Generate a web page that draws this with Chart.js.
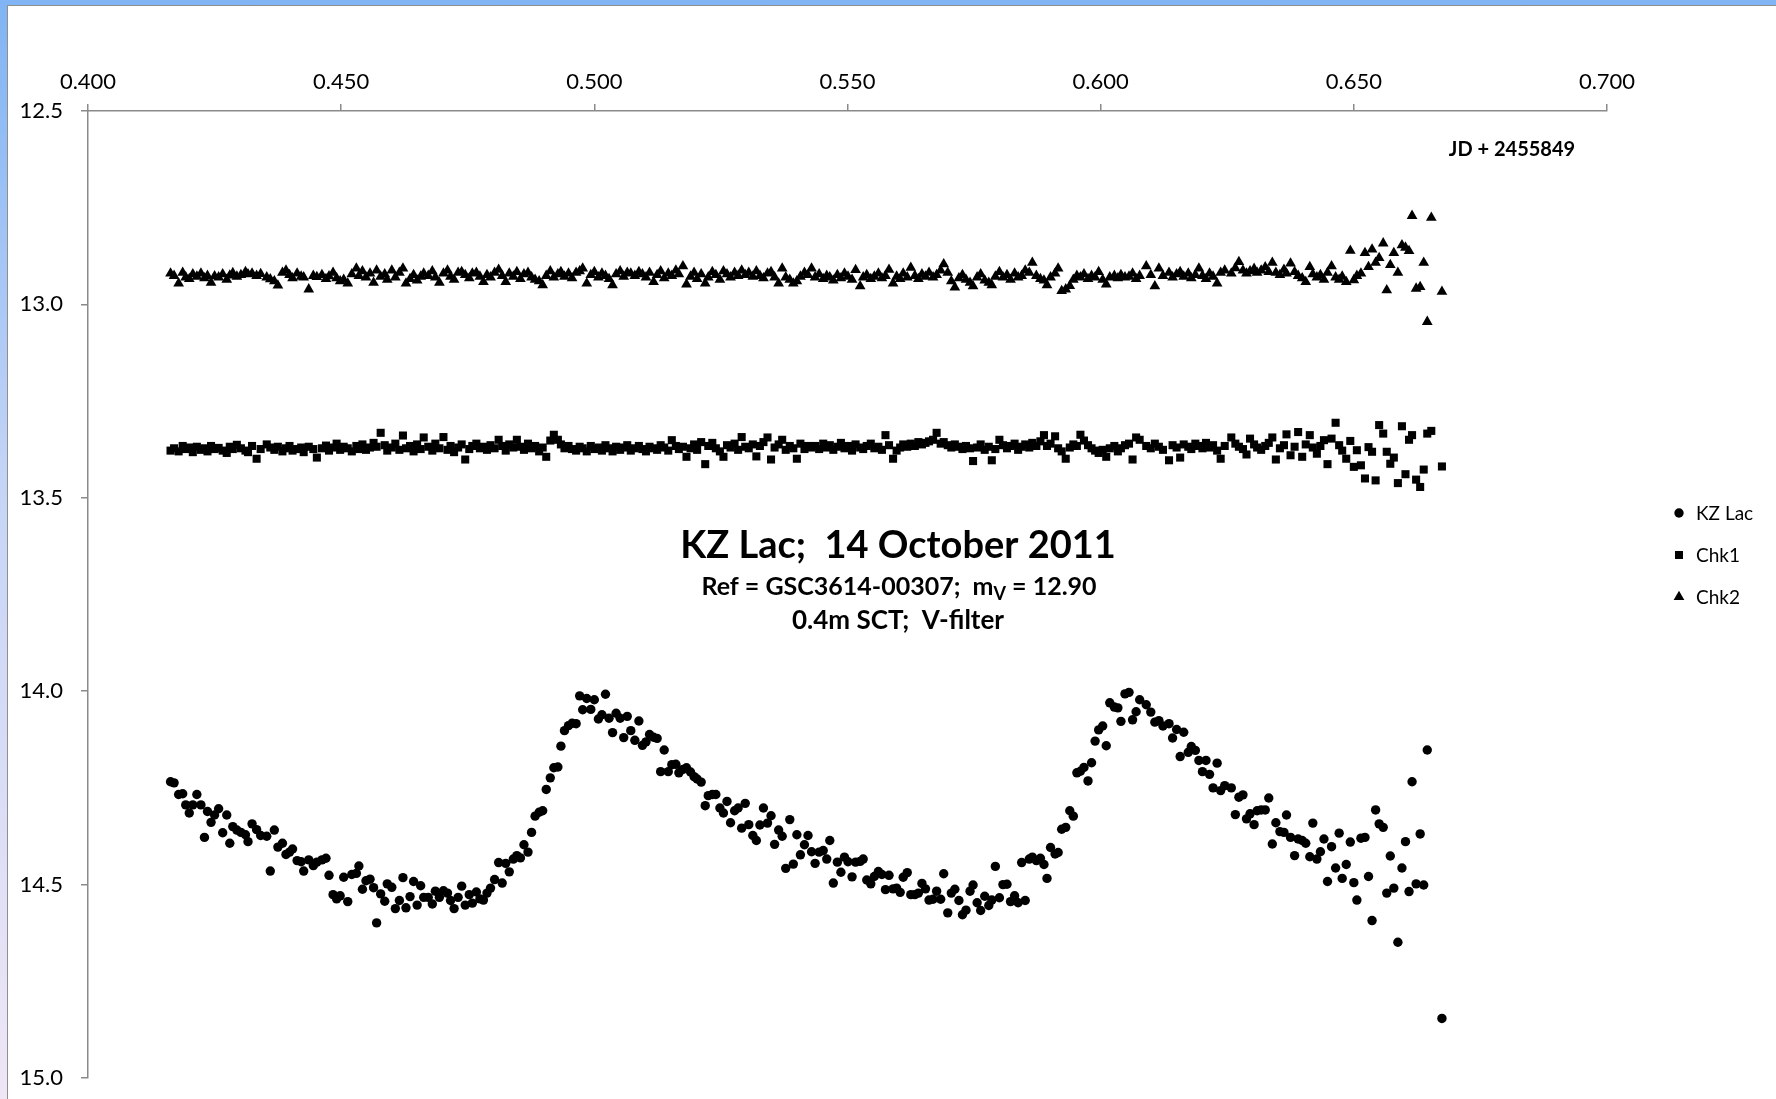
<!DOCTYPE html>
<html>
<head>
<meta charset="utf-8">
<title>KZ Lac light curve</title>
<script src="https://cdn.jsdelivr.net/npm/chart.js@4/dist/chart.umd.min.js"></script>
<style>
  html, body { margin: 0; padding: 0; width: 1776px; height: 1099px; overflow: hidden; background: #fff; }
  #frame { position: absolute; left: 0; top: 0; width: 1776px; height: 1099px;
           background: linear-gradient(to bottom, #80b4f4 0%, #c6d5f6 45%, #efe6f6 100%); }
  #sheet { position: absolute; left: 7px; top: 5px; width: 1769px; height: 1094px; background: #fff;
           border-left: 1px solid #8f8f8f; border-top: 1px solid #8f8f8f; }
  #lc { position: absolute; left: 0; top: 0; }
</style>
</head>
<body>
<div id="frame"></div>
<div id="sheet"></div>
<canvas id="lc" width="1776" height="1099"></canvas>
<script>
// Time of each frame (JD - 2455849)
const jd = [
  0.4163,0.4170,0.4179,0.4187,0.4193,0.4200,0.4207,0.4215,0.4223,0.4230,
  0.4236,0.4243,0.4250,0.4258,0.4266,0.4274,0.4280,0.4286,0.4294,0.4302,
  0.4311,0.4316,0.4324,0.4333,0.4341,0.4353,0.4360,0.4368,0.4375,0.4384,
  0.4391,0.4398,0.4404,0.4413,0.4421,0.4426,0.4436,0.4445,0.4452,0.4462,
  0.4470,0.4476,0.4484,0.4491,0.4498,0.4505,0.4513,0.4521,0.4530,0.4535,
  0.4542,0.4549,0.4557,0.4564,0.4570,0.4578,0.4586,0.4591,0.4600,0.4607,
  0.4615,0.4622,0.4628,0.4636,0.4643,0.4650,0.4657,0.4663,0.4672,0.4680,
  0.4686,0.4694,0.4702,0.4710,0.4716,0.4723,0.4731,0.4738,0.4745,0.4753,
  0.4759,0.4767,0.4774,
  0.4781,0.4788,0.4795,0.4803,0.4811,0.4818,0.4825,0.4832,0.4840,0.4847,
  0.4854,0.4861,0.4869,0.4876,0.4883,0.4891,0.4898,0.4905,0.4913,0.4920,
  0.4928,0.4934,0.4941,0.4949,0.4956,0.4964,0.4971,0.4977,0.4985,0.4993,
  0.5000,0.5008,0.5015,0.5022,0.5029,0.5036,0.5043,0.5051,0.5058,0.5065,
  0.5072,0.5080,0.5088,0.5095,0.5102,0.5109,0.5117,0.5124,0.5131,0.5138,
  0.5146,0.5153,0.5161,0.5167,0.5175,0.5182,0.5190,0.5197,0.5203,0.5211,
  0.5219,0.5225,0.5233,0.5240,0.5248,0.5255,0.5262,0.5269,0.5277,0.5284,
  0.5291,0.5298,0.5305,0.5313,0.5320,0.5327,0.5334,0.5342,0.5349,0.5356,
  0.5364,0.5371,0.5378,0.5386,0.5393,0.5400,0.5407,0.5415,0.5422,0.5429,
  0.5436,0.5444,0.5452,0.5459,0.5465,0.5472,0.5480,0.5487,0.5494,0.5501,
  0.5509,0.5516,0.5525,0.5531,0.5538,0.5546,0.5553,0.5561,0.5568,0.5575,
  0.5582,0.5590,0.5597,0.5604,0.5610,0.5618,0.5625,0.5633,0.5640,0.5647,
  0.5654,0.5661,0.5669,0.5676,0.5684,0.5690,0.5698,0.5705,0.5712,0.5720,
  0.5727,0.5734,0.5742,0.5748,0.5756,0.5763,0.5771,0.5779,0.5785,0.5792,
  0.5800,0.5807,0.5815,0.5822,0.5830,0.5837,0.5844,0.5851,0.5859,0.5865,
  0.5873,0.5881,0.5888,0.5894,0.5901,0.5910,0.5916,0.5923,0.5931,0.5939,
  0.5946,0.5953,0.5960,0.5967,0.5975,0.5982,0.5989,0.5996,0.6004,0.6011,
  0.6018,0.6027,0.6034,0.6040,0.6048,0.6056,0.6063,0.6070,0.6077,
  0.6090,0.6099,0.6107,0.6115,0.6123,0.6135,0.6142,0.6150,0.6157,0.6164,
  0.6173,0.6179,0.6187,0.6194,0.6201,0.6208,0.6215,0.6222,0.6230,0.6237,
  0.6245,0.6258,0.6266,0.6273,0.6281,0.6288,0.6295,0.6303,0.6309,0.6317,
  0.6325,0.6332,0.6339,0.6346,0.6354,0.6362,0.6367,0.6375,0.6383,0.6390,
  0.6398,0.6405,0.6413,0.6419,0.6427,0.6434,0.6441,0.6448,0.6456,0.6464,
  0.6471,0.6477,0.6485,0.6493,0.6500,0.6506,0.6514,0.6522,0.6529,0.6536,
  0.6543,0.6550,0.6558,0.6565,0.6572,0.6579,0.6587,0.6595,0.6602,0.6609,
  0.6615,0.6623,0.6631,0.6638,0.6645,0.6653,0.6674
];

// Variable star magnitudes (V)
const kzLac = [
  14.234,14.237,14.267,14.265,14.294,14.315,14.294,14.267,14.294,14.378,
  14.311,14.339,14.320,14.304,14.366,14.320,14.393,14.350,14.359,14.365,
  14.371,14.389,14.343,14.358,14.373,14.375,14.465,14.359,14.403,14.393,
  14.422,14.416,14.408,14.438,14.441,14.465,14.436,14.451,14.442,14.436,
  14.432,14.476,14.526,14.537,14.529,14.481,14.544,14.474,14.471,14.452,
  14.512,14.490,14.486,14.508,14.599,14.524,14.543,14.498,14.507,14.562,
  14.541,14.482,14.560,14.531,14.492,14.553,14.503,14.533,14.533,14.550,
  14.517,14.533,14.516,14.522,14.541,14.562,14.533,14.504,14.553,14.526,
  14.548,14.519,14.537,
  14.540,14.522,14.509,14.487,14.443,14.496,14.445,14.467,14.434,14.425,
  14.431,14.397,14.416,14.365,14.323,14.313,14.309,14.254,14.224,14.198,
  14.196,14.142,14.102,14.089,14.083,14.084,14.012,14.048,14.019,14.047,
  14.022,14.072,14.061,14.008,14.070,14.107,14.057,14.070,14.120,14.065,
  14.102,14.127,14.077,14.140,14.131,14.112,14.119,14.122,14.208,14.152,
  14.208,14.190,14.189,14.211,14.202,14.198,14.209,14.221,14.227,14.235,
  14.296,14.270,14.267,14.267,14.302,14.315,14.285,14.340,14.309,14.302,
  14.354,14.290,14.345,14.373,14.386,14.346,14.302,14.341,14.322,14.396,
  14.359,14.375,14.458,14.332,14.447,14.371,14.423,14.397,14.373,14.415,
  14.445,14.416,14.412,14.434,14.386,14.496,14.442,14.468,14.429,14.441,
  14.480,14.442,14.440,14.434,14.488,14.498,14.479,14.466,14.474,14.513,
  14.476,14.511,14.509,14.520,14.481,14.469,14.526,14.526,14.522,14.497,
  14.511,14.540,14.538,14.517,14.538,14.472,14.573,14.522,14.512,14.541,
  14.578,14.566,14.517,14.501,14.547,14.567,14.530,14.554,14.540,14.453,
  14.534,14.500,14.499,14.544,14.529,14.547,14.443,14.541,14.434,14.429,
  14.438,14.432,14.448,14.484,14.404,14.421,14.417,14.357,14.352,14.309,
  14.323,14.211,14.207,14.197,14.232,14.185,14.129,14.100,14.090,14.141,
  14.030,14.041,14.043,14.078,14.007,14.003,14.074,14.053,14.022,
  14.035,14.054,14.080,14.076,14.090,14.084,14.121,14.099,14.169,14.106,
  14.158,14.143,14.153,14.179,14.208,14.179,14.215,14.250,14.186,14.257,
  14.244,14.250,14.319,14.274,14.268,14.330,14.317,14.345,14.309,14.307,
  14.307,14.276,14.395,14.340,14.363,14.365,14.320,14.378,14.425,14.382,
  14.386,14.393,14.428,14.341,14.434,14.415,14.382,14.492,14.402,14.457,
  14.367,14.484,14.448,14.390,14.495,14.540,14.380,14.378,14.479,14.593,
  14.307,14.343,14.352,14.522,14.426,14.509,14.649,14.457,14.389,14.518,
  14.234,14.498,14.369,14.501,14.152,null,14.846
];

// First check star
const chk1 = [
  13.378,13.372,13.380,13.366,13.374,13.370,13.382,13.368,13.376,13.372,
  13.380,13.366,13.374,13.371,13.378,13.384,13.368,13.374,13.363,13.372,
  13.378,13.382,13.366,13.399,13.374,13.362,13.370,13.376,13.368,13.380,
  13.372,13.366,13.378,13.374,13.370,13.382,13.368,13.374,13.396,13.372,
  13.365,13.378,13.370,13.360,13.376,13.368,13.372,13.380,13.366,13.374,
  13.362,13.376,13.370,13.358,13.368,13.332,13.364,13.378,13.370,13.360,
  13.376,13.339,13.372,13.366,13.380,13.362,13.374,13.344,13.368,13.378,
  13.360,13.372,13.343,13.376,13.366,13.382,13.370,13.362,13.401,13.374,
  13.366,13.360,13.372,
  13.368,13.376,13.364,13.372,13.350,13.366,13.378,13.362,13.370,13.350,
  13.368,13.376,13.360,13.372,13.366,13.380,13.370,13.394,13.352,13.337,
  13.350,13.362,13.372,13.366,13.374,13.378,13.368,13.372,13.380,13.366,
  13.374,13.370,13.378,13.364,13.372,13.380,13.368,13.376,13.370,13.364,
  13.378,13.372,13.366,13.374,13.380,13.368,13.372,13.376,13.364,13.370,
  13.378,13.351,13.366,13.374,13.368,13.394,13.372,13.362,13.376,13.356,
  13.413,13.366,13.358,13.372,13.380,13.394,13.364,13.370,13.360,13.376,
  13.343,13.368,13.372,13.362,13.393,13.366,13.356,13.344,13.401,13.370,
  13.362,13.350,13.376,13.366,13.372,13.399,13.360,13.374,13.366,13.370,
  13.366,13.374,13.360,13.370,13.364,13.376,13.368,13.358,13.372,13.366,
  13.378,13.362,13.370,13.374,13.366,13.360,13.372,13.368,13.376,13.338,
  13.364,13.399,13.378,13.370,13.362,13.368,13.360,13.366,13.356,13.362,
  13.358,13.354,13.350,13.332,13.360,13.356,13.364,13.370,13.362,13.368,
  13.374,13.366,13.372,13.405,13.370,13.362,13.376,13.368,13.403,13.374,
  13.350,13.364,13.372,13.366,13.360,13.376,13.368,13.362,13.370,13.358,
  13.366,13.354,13.338,13.366,13.360,13.341,13.372,13.380,13.399,13.370,
  13.362,13.366,13.337,13.352,13.364,13.372,13.378,13.384,13.376,13.394,
  13.372,13.366,13.380,13.372,13.364,13.360,13.401,13.344,13.350,
  13.366,13.372,13.360,13.368,13.376,13.403,13.364,13.370,13.396,13.362,
  13.368,13.374,13.360,13.366,13.372,13.358,13.370,13.364,13.378,13.399,
  13.366,13.344,13.360,13.368,13.374,13.388,13.347,13.362,13.370,13.376,
  13.366,13.358,13.344,13.401,13.372,13.364,13.336,13.390,13.368,13.330,
  13.394,13.362,13.338,13.370,13.386,13.366,13.351,13.413,13.347,13.306,
  13.364,13.378,13.399,13.353,13.420,13.377,13.416,13.450,13.369,13.381,
  13.455,13.312,13.334,13.381,13.412,13.396,13.462,13.315,13.439,13.350,
  13.338,13.453,13.472,13.427,13.334,13.327,13.419
];

// Second check star
const chk2 = [
  12.920,12.926,12.946,12.918,12.930,12.934,12.922,12.928,12.920,12.932,
  12.926,12.944,12.927,12.930,12.922,12.936,12.925,12.919,12.928,12.924,
  12.916,12.922,12.920,12.926,12.921,12.930,12.935,12.940,12.951,12.918,
  12.912,12.924,12.932,12.920,12.928,12.930,12.961,12.926,12.929,12.924,
  12.934,12.927,12.918,12.932,12.940,12.936,12.946,12.922,12.907,12.926,
  12.914,12.930,12.920,12.944,12.912,12.928,12.922,12.936,12.912,12.930,
  12.918,12.907,12.946,12.934,12.924,12.938,12.928,12.920,12.926,12.914,
  12.930,12.944,12.920,12.912,12.928,12.936,12.918,12.916,12.924,12.932,
  12.920,12.918,12.928,
  12.942,12.924,12.930,12.918,12.910,12.926,12.942,12.920,12.928,12.916,
  12.934,12.922,12.918,12.930,12.936,12.940,12.950,12.926,12.914,12.930,
  12.922,12.916,12.928,12.920,12.932,12.918,12.914,12.907,12.946,12.924,
  12.916,12.930,12.920,12.926,12.934,12.950,12.922,12.914,12.928,12.918,
  12.920,12.926,12.916,12.922,12.930,12.918,12.942,12.924,12.914,12.932,
  12.920,12.926,12.912,12.922,12.901,12.948,12.928,12.918,12.934,12.922,
  12.946,12.930,12.916,12.924,12.936,12.914,12.922,12.930,12.918,12.926,
  12.912,12.924,12.918,12.928,12.914,12.926,12.932,12.920,12.916,12.930,
  12.946,12.907,12.930,12.936,12.946,12.940,12.928,12.918,12.924,12.907,
  12.930,12.922,12.934,12.926,12.930,12.938,12.924,12.932,12.920,12.928,
  12.936,12.911,12.953,12.930,12.924,12.934,12.928,12.920,12.932,12.926,
  12.910,12.946,12.928,12.934,12.920,12.930,12.905,12.926,12.934,12.922,
  12.928,12.918,12.930,12.924,12.912,12.896,12.918,12.940,12.956,12.932,
  12.924,12.936,12.944,12.953,12.930,12.922,12.938,12.944,12.950,12.928,
  12.916,12.930,12.924,12.936,12.920,12.930,12.926,12.912,12.918,12.892,
  12.926,12.934,12.938,12.950,12.930,12.920,12.907,12.965,12.961,12.952,
  12.936,12.926,12.930,12.922,12.934,12.926,12.930,12.916,12.936,12.948,
  12.930,12.926,12.932,12.924,12.930,12.928,12.920,12.934,12.926,
  12.901,12.924,12.953,12.907,12.926,12.918,12.930,12.922,12.916,12.928,
  12.920,12.932,12.924,12.907,12.926,12.934,12.920,12.928,12.946,12.918,
  12.912,12.920,12.906,12.890,12.912,12.920,12.914,12.908,12.918,12.912,
  12.904,12.916,12.892,12.918,12.924,12.910,12.920,12.894,12.916,12.926,
  12.932,12.942,12.903,12.922,12.930,12.924,12.936,12.918,12.901,12.930,
  12.936,12.928,12.942,12.861,12.937,12.926,12.920,12.867,12.903,12.858,
  12.892,12.880,12.842,12.963,12.898,12.867,12.918,12.847,12.853,12.862,
  12.771,12.959,12.955,12.892,13.045,12.776,12.967
];

const seriesNames = ['KZ Lac', 'Chk1', 'Chk2'];
const xTickRange = [0.4, 0.7, 0.05];
const yTickRange = [12.5, 15.0, 0.5];
const titleText = 'KZ Lac;  14 October 2011';
const refText = ['Ref = GSC3614-00307;  m', 'V', ' = 12.90'];
const setupText = '0.4m SCT;  V-filter';
const axisNote = 'JD + 2455849';

const FONT = "Lato, 'Open Sans', sans-serif";
const AXIS_GREY = '#8a8a8a';

function points(mags) {
  const out = [];
  for (let i = 0; i < Math.min(jd.length, mags.length); i++) {
    if (mags[i] !== null) out.push({ x: jd[i], y: mags[i] });
  }
  return out;
}

const markerStyle = [
  { pointStyle: 'circle', pointRadius: 4.7 },
  { pointStyle: 'rect', pointRadius: 5.7 },
  { pointStyle: 'triangle', pointRadius: 6.2 }
];

// Legend on the right and the caption block inside the plot
const notesPlugin = {
  id: 'notes',
  afterDraw(chart) {
    const ctx = chart.ctx;
    ctx.save();
    ctx.fillStyle = '#000';
    ctx.textBaseline = 'alphabetic';

    // caption
    ctx.textAlign = 'center';
    ctx.font = `bold 38px ${FONT}`;
    ctx.fillText(titleText, 898, 558);

    const big = `bold 25px ${FONT}`, small = `bold 18px ${FONT}`;
    ctx.font = big;
    const w1 = ctx.measureText(refText[0]).width;
    const w3 = ctx.measureText(refText[2]).width;
    ctx.font = small;
    const w2 = ctx.measureText(refText[1]).width;
    const x0 = 899 - (w1 + w2 + w3) / 2;
    ctx.textAlign = 'left';
    ctx.font = big;
    ctx.fillText(refText[0], x0, 595);
    ctx.font = small;
    ctx.fillText(refText[1], x0 + w1, 600);
    ctx.font = big;
    ctx.fillText(refText[2], x0 + w1 + w2, 595);

    ctx.textAlign = 'center';
    ctx.font = `bold 26px ${FONT}`;
    ctx.fillText(setupText, 898, 629);

    // axis note
    ctx.font = `bold 20px ${FONT}`;
    ctx.fillText(axisNote, 1512, 156);

    // legend
    const rows = [513, 555, 597];
    const drawPoint = Chart.helpers && Chart.helpers.drawPoint;
    chart.data.datasets.forEach((ds, i) => {
      const y = rows[i];
      ctx.fillStyle = '#000';
      ctx.strokeStyle = '#000';
      if (drawPoint) {
        drawPoint(ctx, { pointStyle: ds.pointStyle, radius: ds.pointRadius, borderWidth: 0, rotation: 0 }, 1679, y);
      }
      ctx.fillStyle = '#000';
      ctx.textAlign = 'left';
      ctx.textBaseline = 'middle';
      ctx.font = `19px ${FONT}`;
      ctx.fillText(ds.label, 1696, y + 1);
    });
    ctx.restore();
  }
};

const datasets = [kzLac, chk1, chk2].map((mags, i) => ({
  label: seriesNames[i],
  data: points(mags),
  pointStyle: markerStyle[i].pointStyle,
  pointRadius: markerStyle[i].pointRadius,
  pointBackgroundColor: '#000',
  pointBorderColor: '#000',
  pointBorderWidth: 0,
  showLine: false
}));

new Chart(document.getElementById('lc'), {
  type: 'scatter',
  data: { datasets },
  options: {
    responsive: false,
    animation: false,
    devicePixelRatio: 1,
    events: [],
    layout: { padding: { left: 0, top: 0, right: 169, bottom: 21 } },
    plugins: { legend: { display: false }, tooltip: { enabled: false }, title: { display: false } },
    scales: {
      x: {
        type: 'linear',
        position: 'top',
        min: xTickRange[0],
        max: xTickRange[1],
        afterFit(scale) { scale.height = 111; },
        ticks: {
          stepSize: xTickRange[2],
          autoSkip: false,
          maxRotation: 0,
          padding: 9,
          color: '#000',
          font: { family: FONT, size: 22 },
          callback: v => Number(v).toFixed(3)
        },
        grid: { drawOnChartArea: false, drawTicks: true, tickLength: 7, color: AXIS_GREY, lineWidth: 1.5 },
        border: { display: true, color: AXIS_GREY, width: 1.5 }
      },
      y: {
        type: 'linear',
        position: 'left',
        reverse: true,
        min: yTickRange[0],
        max: yTickRange[1],
        afterFit(scale) {
          scale.width = 88;
          scale.paddingTop = 0;
          scale.paddingBottom = 0;
        },
        ticks: {
          stepSize: yTickRange[2],
          autoSkip: false,
          padding: 18,
          color: '#000',
          font: { family: FONT, size: 22 },
          callback: v => Number(v).toFixed(1)
        },
        grid: { drawOnChartArea: false, drawTicks: true, tickLength: 7, color: AXIS_GREY, lineWidth: 1.5 },
        border: { display: true, color: AXIS_GREY, width: 1.5 }
      }
    }
  },
  plugins: [notesPlugin]
});
</script>
</body>
</html>
